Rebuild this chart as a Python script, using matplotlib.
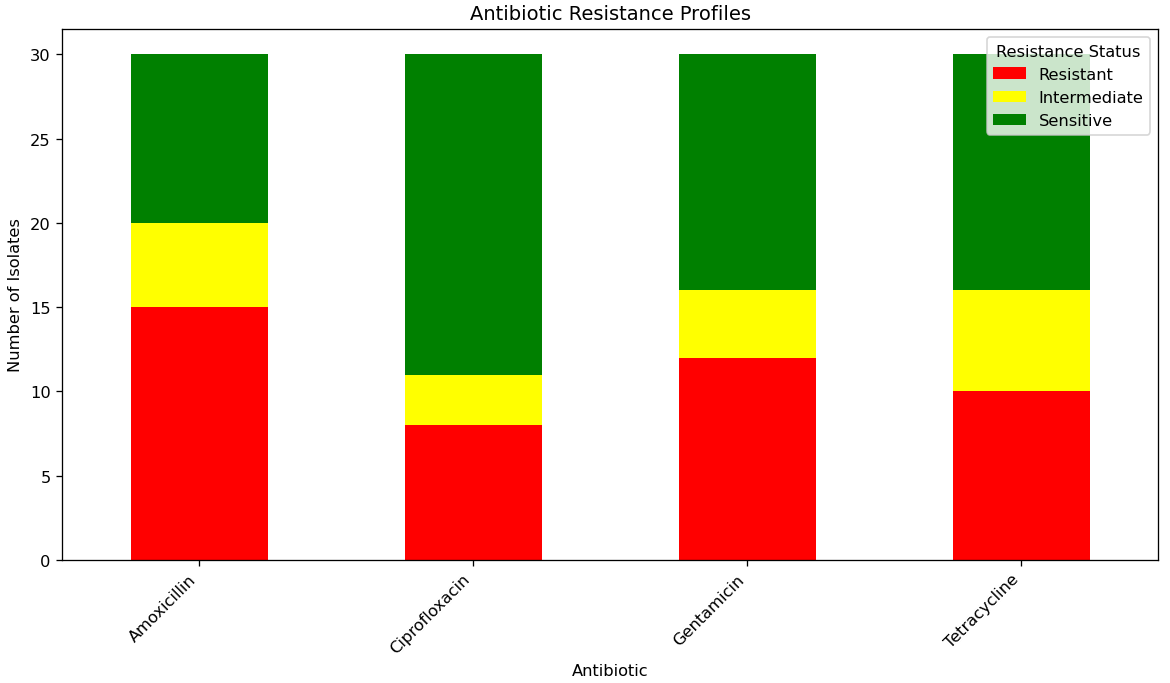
import matplotlib
matplotlib.use("Agg")
import matplotlib.pyplot as plt
import numpy as np

antibiotics = ["Amoxicillin", "Ciprofloxacin", "Gentamicin", "Tetracycline"]
resistant = [15, 8, 12, 10]
intermediate = [5, 3, 4, 6]
sensitive = [10, 19, 14, 14]

fig, ax = plt.subplots(figsize=(10, 5.846), dpi=117)
x = np.arange(len(antibiotics))
w = 0.5
ax.bar(x, resistant, w, color="red", label="Resistant")
ax.bar(x, intermediate, w, bottom=resistant, color="yellow", label="Intermediate")
bottom2 = np.array(resistant) + np.array(intermediate)
ax.bar(x, sensitive, w, bottom=bottom2, color="green", label="Sensitive")
ax.set_xlim(-0.5, len(antibiotics) - 0.5)
ax.set_xticks(x)
ax.set_xticklabels(antibiotics, rotation=45, ha="right")
ax.set_xlabel("Antibiotic")
ax.set_ylabel("Number of Isolates")
ax.set_title("Antibiotic Resistance Profiles")
ax.legend(title="Resistance Status", loc="upper right")
fig.subplots_adjust(left=0.053, right=0.99, top=0.956, bottom=0.18)
fig.savefig("out.png", dpi=117)
